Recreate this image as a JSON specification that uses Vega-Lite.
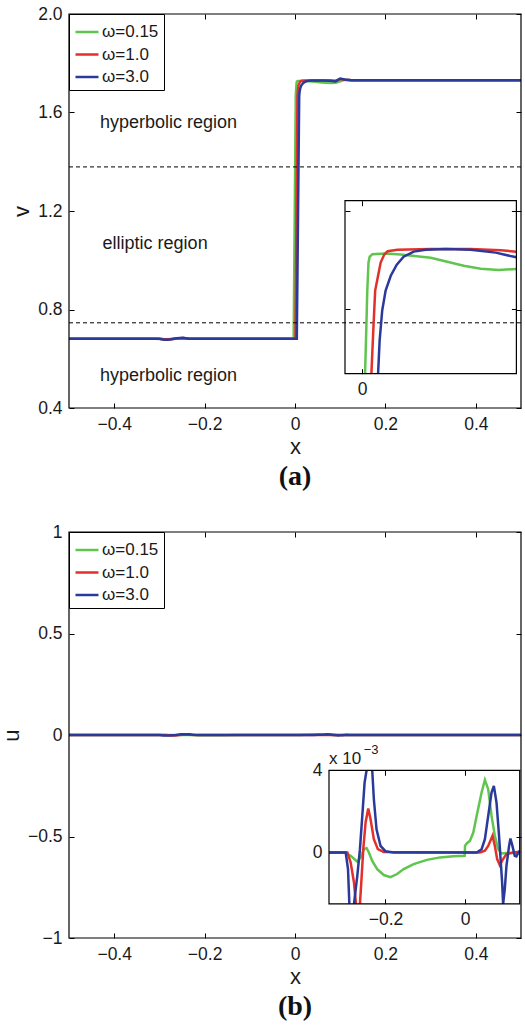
{
 "$schema": "https://vega.github.io/schema/vega-lite/v6.json",
 "padding": {"left": 0, "top": 5, "right": 0, "bottom": 0},
 "spacing": 32,
 "datasets": {
  "a": [
   {"s":"ω=0.15","x":-0.5,"v":0.681},{"s":"ω=0.15","x":-0.31,"v":0.681},{"s":"ω=0.15","x":-0.29,"v":0.6795},{"s":"ω=0.15","x":-0.275,"v":0.6805},{"s":"ω=0.15","x":-0.255,"v":0.6825},{"s":"ω=0.15","x":-0.24,"v":0.681},{"s":"ω=0.15","x":-0.003,"v":0.681},
   {"s":"ω=0.15","x":0.0017,"v":1.6668},{"s":"ω=0.15","x":0.0024,"v":1.6888},{"s":"ω=0.15","x":0.003,"v":1.7092},{"s":"ω=0.15","x":0.0037,"v":1.7235},{"s":"ω=0.15","x":0.0044,"v":1.7265},{"s":"ω=0.15","x":0.006,"v":1.7278},{"s":"ω=0.15","x":0.0137,"v":1.7281},{"s":"ω=0.15","x":0.0225,"v":1.7276},{"s":"ω=0.15","x":0.04,"v":1.726},{"s":"ω=0.15","x":0.0593,"v":1.7219},{"s":"ω=0.15","x":0.0692,"v":1.7204},{"s":"ω=0.15","x":0.0797,"v":1.7197},{"s":"ω=0.15","x":0.09,"v":1.7203},
   {"s":"ω=0.15","x":0.1,"v":1.727},{"s":"ω=0.15","x":0.11,"v":1.733},{"s":"ω=0.15","x":0.125,"v":1.731},{"s":"ω=0.15","x":0.5,"v":1.731},
   {"s":"ω=1.0","x":-0.5,"v":0.681},{"s":"ω=1.0","x":-0.3,"v":0.681},{"s":"ω=1.0","x":-0.288,"v":0.6795},{"s":"ω=1.0","x":-0.275,"v":0.679},{"s":"ω=1.0","x":-0.26,"v":0.682},{"s":"ω=1.0","x":-0.247,"v":0.684},{"s":"ω=1.0","x":-0.232,"v":0.681},{"s":"ω=1.0","x":0.001,"v":0.681},
   {"s":"ω=1.0","x":0.0054,"v":1.6668},{"s":"ω=1.0","x":0.0065,"v":1.6888},{"s":"ω=1.0","x":0.0076,"v":1.7092},{"s":"ω=1.0","x":0.0093,"v":1.7168},{"s":"ω=1.0","x":0.0108,"v":1.7235},{"s":"ω=1.0","x":0.0129,"v":1.7276},{"s":"ω=1.0","x":0.0149,"v":1.7293},{"s":"ω=1.0","x":0.0206,"v":1.7301},{"s":"ω=1.0","x":0.04,"v":1.7304},{"s":"ω=1.0","x":0.0633,"v":1.7304},{"s":"ω=1.0","x":0.0808,"v":1.7298},{"s":"ω=1.0","x":0.09,"v":1.7291},
   {"s":"ω=1.0","x":0.1,"v":1.736},{"s":"ω=1.0","x":0.11,"v":1.733},{"s":"ω=1.0","x":0.125,"v":1.731},{"s":"ω=1.0","x":0.5,"v":1.731},
   {"s":"ω=3.0","x":-0.5,"v":0.681},{"s":"ω=3.0","x":-0.3,"v":0.681},{"s":"ω=3.0","x":-0.29,"v":0.677},{"s":"ω=3.0","x":-0.28,"v":0.6775},{"s":"ω=3.0","x":-0.262,"v":0.683},{"s":"ω=3.0","x":-0.248,"v":0.685},{"s":"ω=3.0","x":-0.235,"v":0.681},{"s":"ω=3.0","x":0.004,"v":0.681},
   {"s":"ω=3.0","x":0.0093,"v":1.6668},{"s":"ω=3.0","x":0.0102,"v":1.6837},{"s":"ω=3.0","x":0.0117,"v":1.699},{"s":"ω=3.0","x":0.0137,"v":1.7092},{"s":"ω=3.0","x":0.0167,"v":1.7168},{"s":"ω=3.0","x":0.0202,"v":1.7224},{"s":"ω=3.0","x":0.0242,"v":1.7265},{"s":"ω=3.0","x":0.0301,"v":1.7291},{"s":"ω=3.0","x":0.0371,"v":1.7301},{"s":"ω=3.0","x":0.0488,"v":1.7304},{"s":"ω=3.0","x":0.0633,"v":1.7301},{"s":"ω=3.0","x":0.0779,"v":1.7286},{"s":"ω=3.0","x":0.09,"v":1.7262},
   {"s":"ω=3.0","x":0.1,"v":1.738},{"s":"ω=3.0","x":0.11,"v":1.734},{"s":"ω=3.0","x":0.125,"v":1.731},{"s":"ω=3.0","x":0.5,"v":1.731}
  ],
  "b": [
   {"s":"ω=0.15","seg":"1","x":-0.5,"u":0},{"s":"ω=0.15","seg":"1","x":-0.3417,"u":0},{"s":"ω=0.15","seg":"1","x":-0.3042,"u":0},{"s":"ω=0.15","seg":"1","x":-0.2875,"u":-0.00016},{"s":"ω=0.15","seg":"1","x":-0.2708,"u":-0.00045},{"s":"ω=0.15","seg":"1","x":-0.2625,"u":-0.00024},{"s":"ω=0.15","seg":"1","x":-0.2542,"u":0.00016},{"s":"ω=0.15","seg":"1","x":-0.2475,"u":0.00021},{"s":"ω=0.15","seg":"1","x":-0.2417,"u":0},{"s":"ω=0.15","seg":"1","x":-0.2333,"u":-0.00041},{"s":"ω=0.15","seg":"1","x":-0.2208,"u":-0.00081},{"s":"ω=0.15","seg":"1","x":-0.2042,"u":-0.0011},{"s":"ω=0.15","seg":"1","x":-0.1875,"u":-0.0012},{"s":"ω=0.15","seg":"1","x":-0.1708,"u":-0.00105},{"s":"ω=0.15","seg":"1","x":-0.1542,"u":-0.00081},{"s":"ω=0.15","seg":"1","x":-0.1292,"u":-0.00057},{"s":"ω=0.15","seg":"1","x":-0.0958,"u":-0.00036},{"s":"ω=0.15","seg":"1","x":-0.0625,"u":-0.00024},{"s":"ω=0.15","seg":"1","x":-0.0292,"u":-0.00019},{"s":"ω=0.15","seg":"1","x":-0.0008,"u":-0.00016},{"s":"ω=0.15","seg":"1","x":0,"u":0.00032},{"s":"ω=0.15","seg":"1","x":0.0042,"u":0.00044},{"s":"ω=0.15","seg":"1","x":0.0125,"u":0.00057},{"s":"ω=0.15","seg":"1","x":0.0208,"u":0.00097},{"s":"ω=0.15","seg":"1","x":0.0292,"u":0.00178},{"s":"ω=0.15","seg":"1","x":0.0417,"u":0.00292},{"s":"ω=0.15","seg":"1","x":0.05,"u":0.00353},{"s":"ω=0.15","seg":"1","x":0.0583,"u":0.00308},{"s":"ω=0.15","seg":"1","x":0.0667,"u":0.00178},{"s":"ω=0.15","seg":"1","x":0.075,"u":0.00081},{"s":"ω=0.15","seg":"1","x":0.0833,"u":0.00016},{"s":"ω=0.15","seg":"1","x":0.0917,"u":-0.00005},{"s":"ω=0.15","seg":"1","x":0.1042,"u":-0.00003},{"s":"ω=0.15","seg":"1","x":0.1375,"u":-0.00003},{"s":"ω=0.15","seg":"1","x":0.5,"u":0},
   {"s":"ω=1.0","seg":"1","x":-0.5,"u":0},{"s":"ω=1.0","seg":"1","x":-0.3417,"u":0},{"s":"ω=1.0","seg":"1","x":-0.2958,"u":0},{"s":"ω=1.0","seg":"1","x":-0.2875,"u":-0.00049},{"s":"ω=1.0","seg":"1","x":-0.2792,"u":-0.00146},{"s":"ω=1.0","seg":"1","x":-0.2742,"u":-0.0025},
   {"s":"ω=1.0","seg":"2","x":-0.2642,"u":-0.0025},{"s":"ω=1.0","seg":"2","x":-0.2608,"u":-0.00146},{"s":"ω=1.0","seg":"2","x":-0.2558,"u":0.00016},{"s":"ω=1.0","seg":"2","x":-0.25,"u":0.00146},{"s":"ω=1.0","seg":"2","x":-0.2433,"u":0.00214},{"s":"ω=1.0","seg":"2","x":-0.2375,"u":0.00162},{"s":"ω=1.0","seg":"2","x":-0.2292,"u":0.00065},{"s":"ω=1.0","seg":"2","x":-0.2192,"u":0.00016},{"s":"ω=1.0","seg":"2","x":-0.2042,"u":0.00002},{"s":"ω=1.0","seg":"2","x":0.0375,"u":0},{"s":"ω=1.0","seg":"2","x":0.05,"u":0.00008},{"s":"ω=1.0","seg":"2","x":0.0583,"u":0.00032},{"s":"ω=1.0","seg":"2","x":0.0692,"u":0.00081},{"s":"ω=1.0","seg":"2","x":0.075,"u":0.00032},{"s":"ω=1.0","seg":"2","x":0.0808,"u":-0.00032},{"s":"ω=1.0","seg":"2","x":0.0875,"u":-0.00062},{"s":"ω=1.0","seg":"2","x":0.0958,"u":-0.00032},{"s":"ω=1.0","seg":"2","x":0.1042,"u":-0.00008},{"s":"ω=1.0","seg":"2","x":0.1208,"u":0},{"s":"ω=1.0","seg":"2","x":0.1375,"u":0.00003},{"s":"ω=1.0","seg":"2","x":0.5,"u":0},
   {"s":"ω=3.0","seg":"1","x":-0.5,"u":0},{"s":"ω=3.0","seg":"1","x":-0.3417,"u":0},{"s":"ω=3.0","seg":"1","x":-0.3,"u":0},{"s":"ω=3.0","seg":"1","x":-0.2942,"u":-0.00081},{"s":"ω=3.0","seg":"1","x":-0.2908,"u":-0.0025},
   {"s":"ω=3.0","seg":"2","x":-0.2792,"u":-0.0025},{"s":"ω=3.0","seg":"2","x":-0.2708,"u":-0.00113},{"s":"ω=3.0","seg":"2","x":-0.2642,"u":0.00016},{"s":"ω=3.0","seg":"2","x":-0.2583,"u":0.00178},{"s":"ω=3.0","seg":"2","x":-0.2525,"u":0.0034},{"s":"ω=3.0","seg":"2","x":-0.2475,"u":0.004},
   {"s":"ω=3.0","seg":"3","x":-0.2333,"u":0.004},{"s":"ω=3.0","seg":"3","x":-0.2292,"u":0.00259},{"s":"ω=3.0","seg":"3","x":-0.2225,"u":0.00113},{"s":"ω=3.0","seg":"3","x":-0.2125,"u":0.00032},{"s":"ω=3.0","seg":"3","x":-0.2,"u":0.00006},{"s":"ω=3.0","seg":"3","x":-0.1792,"u":0},{"s":"ω=3.0","seg":"3","x":0.0292,"u":0},{"s":"ω=3.0","seg":"3","x":0.0417,"u":0.00016},{"s":"ω=3.0","seg":"3","x":0.05,"u":0.00065},{"s":"ω=3.0","seg":"3","x":0.0583,"u":0.00178},{"s":"ω=3.0","seg":"3","x":0.0667,"u":0.00292},{"s":"ω=3.0","seg":"3","x":0.0725,"u":0.00324},{"s":"ω=3.0","seg":"3","x":0.0792,"u":0.00243},{"s":"ω=3.0","seg":"3","x":0.085,"u":0.00097},{"s":"ω=3.0","seg":"3","x":0.09,"u":-0.00049},{"s":"ω=3.0","seg":"3","x":0.0933,"u":-0.00146},{"s":"ω=3.0","seg":"3","x":0.0958,"u":-0.0025},{"s":"ω=3.0","seg":"3","x":0.1,"u":-0.00178},{"s":"ω=3.0","seg":"3","x":0.1042,"u":-0.00065},{"s":"ω=3.0","seg":"3","x":0.1108,"u":0.00032},{"s":"ω=3.0","seg":"3","x":0.1142,"u":0.00068},{"s":"ω=3.0","seg":"3","x":0.1192,"u":0.00032},{"s":"ω=3.0","seg":"3","x":0.125,"u":-0.00016},{"s":"ω=3.0","seg":"3","x":0.1292,"u":-0.00019},{"s":"ω=3.0","seg":"3","x":0.1333,"u":-0.00003},{"s":"ω=3.0","seg":"3","x":0.1375,"u":0.00008},{"s":"ω=3.0","seg":"3","x":0.5,"u":0}
  ]
 },
 "vconcat": [
  {
   "width": 452, "height": 394,
   "data": {"name": "a"},
   "title": {"text": "(a)", "orient": "bottom", "frame": "group", "anchor": "middle", "font": "Liberation Serif", "fontSize": 28, "fontWeight": "bold", "color": "#111", "offset": 5},
   "layer": [
    {
     "layer": [
      {
       "mark": {"type": "line", "strokeWidth": 2.5},
       "encoding": {
        "x": {"field": "x", "type": "quantitative", "scale": {"domain": [-0.5, 0.5], "nice": false, "zero": false}, "axis": {"orient": "bottom", "values": [-0.4, -0.2, 0, 0.2, 0.4], "format": "~g", "title": "x", "domain": false}},
        "y": {"field": "v", "type": "quantitative", "scale": {"domain": [0.4, 2.0], "nice": false, "zero": false}, "axis": {"orient": "left", "values": [0.4, 0.8, 1.2, 1.6, 2.0], "format": ".1f", "title": "v", "domain": false}},
        "color": {"field": "s", "type": "nominal", "scale": {"domain": ["ω=0.15", "ω=1.0", "ω=3.0"], "range": ["#5fc54e", "#e2302b", "#2a3a9b"]}, "legend": {"orient": "top-left", "title": null}}
       }
      },
      {
       "data": {"values": [{"b": 1.379}, {"b": 0.746}]},
       "mark": {"type": "rule", "strokeDash": [4, 3], "strokeWidth": 1, "color": "black"},
       "encoding": {"y": {"field": "b", "type": "quantitative", "axis": null}}
      },
      {
       "data": {"values": [{"label": "hyperbolic region", "lx": -0.4316, "ly": 1.558}, {"label": "elliptic region", "lx": -0.4257, "ly": 1.065}, {"label": "hyperbolic region", "lx": -0.4316, "ly": 0.529}]},
       "mark": {"type": "text", "align": "left", "baseline": "middle", "fontSize": 18, "font": "Liberation Sans", "color": "#1a1a1a"},
       "encoding": {
        "x": {"field": "lx", "type": "quantitative", "axis": null},
        "y": {"field": "ly", "type": "quantitative", "axis": null},
        "text": {"field": "label"}
       }
      },
      {
       "data": {"values": [{"x0": -0.5, "x1": 0.5, "y0": 0.4, "y1": 2.0}]},
       "mark": {"type": "rect", "filled": false, "color": "black", "strokeWidth": 1.2},
       "encoding": {
        "x": {"field": "x0", "type": "quantitative", "axis": {"orient": "top", "values": [-0.4, -0.2, 0, 0.2, 0.4], "labels": false, "title": null, "domain": false}},
        "x2": {"field": "x1"},
        "y": {"field": "y0", "type": "quantitative", "axis": {"orient": "right", "values": [0.4, 0.8, 1.2, 1.6, 2.0], "labels": false, "title": null, "domain": false}},
        "y2": {"field": "y1"}
       }
      }
     ],
     "resolve": {"axis": {"x": "independent", "y": "independent"}}
    },
    {
     "transform": [{"filter": "datum.x >= -0.01 && datum.x <= 0.09 && datum.v >= 1.6668"}],
     "layer": [
      {
       "mark": {"type": "line", "strokeWidth": 2.5},
       "encoding": {
        "x": {"field": "x", "type": "quantitative", "scale": {"domain": [-0.01, 0.09], "range": [276, 447.4], "nice": false, "zero": false}, "axis": {"orient": "bottom", "offset": -34.3, "values": [0], "format": "~g", "title": null, "domain": false}},
        "y": {"field": "v", "type": "quantitative", "scale": {"domain": [1.6668, 1.7551], "range": [359.7, 186.7], "nice": false, "zero": false}, "axis": {"orient": "left", "offset": -276, "values": [1.7, 1.75], "labels": false, "title": null, "domain": false}},
        "color": {"field": "s", "type": "nominal", "scale": {"domain": ["ω=0.15", "ω=1.0", "ω=3.0"], "range": ["#5fc54e", "#e2302b", "#2a3a9b"]}, "legend": {"orient": "top-left", "title": null}}
       }
      },
      {
       "data": {"values": [{"x0": -0.01, "x1": 0.09, "y0": 1.6668, "y1": 1.7551}]},
       "mark": {"type": "rect", "filled": false, "color": "black", "strokeWidth": 1.2},
       "encoding": {
        "x": {"field": "x0", "type": "quantitative", "scale": {"domain": [-0.01, 0.09], "range": [276, 447.4], "nice": false, "zero": false}, "axis": {"orient": "top", "offset": -186.7, "values": [0], "labels": false, "title": null, "domain": false}},
        "x2": {"field": "x1"},
        "y": {"field": "y0", "type": "quantitative", "scale": {"domain": [1.6668, 1.7551], "range": [359.7, 186.7], "nice": false, "zero": false}, "axis": {"orient": "right", "offset": -4.6, "values": [1.7, 1.75], "labels": false, "title": null, "domain": false}},
        "y2": {"field": "y1"}
       }
      }
     ],
     "resolve": {"axis": {"x": "independent", "y": "independent"}}
    }
   ],
   "resolve": {"scale": {"x": "independent", "y": "independent"}}
  },
  {
   "width": 452, "height": 406,
   "data": {"name": "b"},
   "title": {"text": "(b)", "orient": "bottom", "frame": "group", "anchor": "middle", "font": "Liberation Serif", "fontSize": 28, "fontWeight": "bold", "color": "#111", "offset": 5},
   "layer": [
    {
     "layer": [
      {
       "mark": {"type": "line", "strokeWidth": 2.5},
       "encoding": {
        "x": {"field": "x", "type": "quantitative", "scale": {"domain": [-0.5, 0.5], "nice": false, "zero": false}, "axis": {"orient": "bottom", "values": [-0.4, -0.2, 0, 0.2, 0.4], "format": "~g", "title": "x", "domain": false}},
        "y": {"field": "u", "type": "quantitative", "scale": {"domain": [-1, 1], "nice": false, "zero": false}, "axis": {"orient": "left", "values": [-1, -0.5, 0, 0.5, 1], "format": "~g", "title": "u", "domain": false}},
        "color": {"field": "s", "type": "nominal", "scale": {"domain": ["ω=0.15", "ω=1.0", "ω=3.0"], "range": ["#5fc54e", "#e2302b", "#2a3a9b"]}, "legend": {"orient": "top-left", "title": null}}
       }
      },
      {
       "data": {"values": [{"x0": -0.5, "x1": 0.5, "y0": -1, "y1": 1}]},
       "mark": {"type": "rect", "filled": false, "color": "black", "strokeWidth": 1.2},
       "encoding": {
        "x": {"field": "x0", "type": "quantitative", "axis": {"orient": "top", "values": [-0.4, -0.2, 0, 0.2, 0.4], "labels": false, "title": null, "domain": false}},
        "x2": {"field": "x1"},
        "y": {"field": "y0", "type": "quantitative", "axis": {"orient": "right", "values": [-1, -0.5, 0, 0.5, 1], "labels": false, "title": null, "domain": false}},
        "y2": {"field": "y1"}
       }
      }
     ],
     "resolve": {"axis": {"x": "independent", "y": "independent"}}
    },
    {
     "transform": [{"filter": "datum.x >= -0.342 && datum.x <= 0.1375"}],
     "layer": [
      {
       "mark": {"type": "line", "strokeWidth": 2.5},
       "encoding": {
        "x": {"field": "x", "type": "quantitative", "scale": {"domain": [-0.342, 0.1375], "range": [260, 450.7], "nice": false, "zero": false}, "axis": {"orient": "bottom", "offset": -34.2, "values": [-0.2, 0], "format": "~g", "title": null, "domain": false}},
        "y": {"field": "u", "type": "quantitative", "scale": {"domain": [-0.0025, 0.004], "range": [371.8, 238.3], "nice": false, "zero": false}, "axis": {"orient": "left", "offset": -260, "values": [0, 0.004], "labelExpr": "format(datum.value*1000, '~g')", "title": null, "domain": false}},
        "detail": {"field": "seg", "type": "nominal"},
        "color": {"field": "s", "type": "nominal", "scale": {"domain": ["ω=0.15", "ω=1.0", "ω=3.0"], "range": ["#5fc54e", "#e2302b", "#2a3a9b"]}, "legend": {"orient": "top-left", "title": null}}
       }
      },
      {
       "data": {"values": [{"x0": -0.342, "x1": 0.1375, "y0": -0.0025, "y1": 0.004}]},
       "mark": {"type": "rect", "filled": false, "color": "black", "strokeWidth": 1.2},
       "encoding": {
        "x": {"field": "x0", "type": "quantitative", "scale": {"domain": [-0.342, 0.1375], "range": [260, 450.7], "nice": false, "zero": false}, "axis": {"orient": "top", "offset": -238.3, "values": [-0.2, 0], "labels": false, "title": null, "domain": false}},
        "x2": {"field": "x1"},
        "y": {"field": "y0", "type": "quantitative", "scale": {"domain": [-0.0025, 0.004], "range": [371.8, 238.3], "nice": false, "zero": false}, "axis": {"orient": "right", "offset": -1.3, "values": [0, 0.004], "labels": false, "title": null, "domain": false}},
        "y2": {"field": "y1"}
       }
      },
      {
       "data": {"values": [{"t": "x 10"}]},
       "mark": {"type": "text", "align": "left", "baseline": "alphabetic", "dy": -6, "fontSize": 17, "font": "Liberation Sans", "color": "#1a1a1a"},
       "encoding": {
        "x": {"datum": -0.342, "type": "quantitative", "axis": null},
        "y": {"datum": 0.004, "type": "quantitative", "axis": null},
        "text": {"field": "t"}
       }
      },
      {
       "data": {"values": [{"t": "−3"}]},
       "mark": {"type": "text", "align": "left", "baseline": "alphabetic", "dy": -16, "fontSize": 13, "font": "Liberation Sans", "color": "#1a1a1a"},
       "encoding": {
        "x": {"datum": -0.2547, "type": "quantitative", "axis": null},
        "y": {"datum": 0.004, "type": "quantitative", "axis": null},
        "text": {"field": "t"}
       }
      }
     ],
     "resolve": {"axis": {"x": "independent", "y": "independent"}}
    }
   ],
   "resolve": {"scale": {"x": "independent", "y": "independent"}}
  }
 ],
 "resolve": {"scale": {"color": "independent"}, "legend": {"color": "independent"}},
 "config": {
  "font": "Liberation Sans",
  "view": {"stroke": null},
  "axis": {
   "labelFont": "Liberation Sans", "labelFontSize": 17.5, "labelColor": "#1a1a1a",
   "titleFont": "Liberation Sans", "titleFontSize": 22, "titleFontWeight": "normal", "titleColor": "#1a1a1a",
   "domainColor": "#000", "tickColor": "#000", "tickSize": -5, "tickWidth": 1, "labelPadding": 12, "titlePadding": 4, "grid": false
  },
  "legend": {
   "offset": 0, "padding": 5, "rowPadding": 1.5, "strokeColor": "#000", "fillColor": "#fff",
   "symbolType": "stroke", "symbolStrokeWidth": 2.5, "symbolSize": 529,
   "labelFont": "Liberation Sans", "labelFontSize": 17, "labelColor": "#1a1a1a", "labelOffset": 2
  }
 }
}
